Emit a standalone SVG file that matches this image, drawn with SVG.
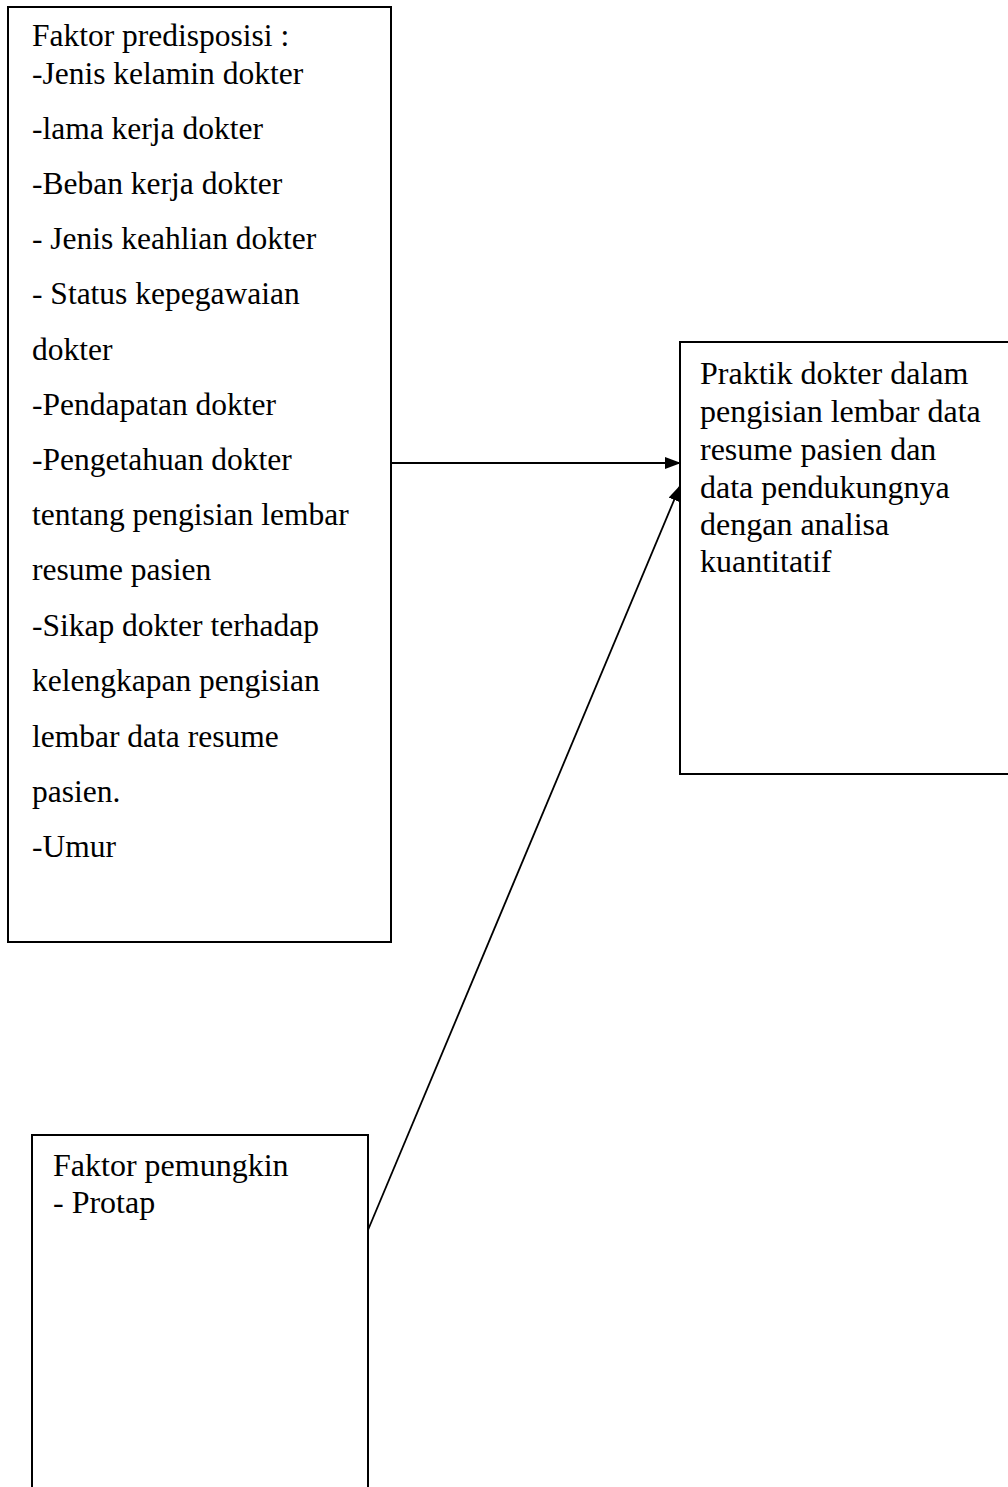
<svg xmlns="http://www.w3.org/2000/svg" width="1008" height="1487" viewBox="0 0 1008 1487">
<style>
.box{fill:#fff;stroke:#000;stroke-width:2}
.t{font-family:"Liberation Serif","Times New Roman",serif;font-size:31.5px;fill:#000}
.t2{font-family:"Liberation Serif","Times New Roman",serif;font-size:32px;fill:#000}
.c{stroke:#000;stroke-width:1.8;fill:none}
</style>
<defs>
<marker id="ah" markerWidth="16" markerHeight="12" refX="15" refY="6" orient="auto" markerUnits="userSpaceOnUse">
<path d="M0,0 L16,6 L0,12 Z" fill="#000"/>
</marker>
</defs>
<rect width="1008" height="1487" fill="#fff"/>
<g id="predisposisi">
<rect class="box" x="8" y="7" width="383" height="935"/>
<text class="t"><tspan x="32" y="46">Faktor predisposisi :</tspan><tspan x="32" y="84">-Jenis kelamin dokter</tspan><tspan x="32" y="139">-lama kerja dokter</tspan><tspan x="32" y="194">-Beban kerja dokter</tspan><tspan x="32" y="249">- Jenis keahlian dokter</tspan><tspan x="32" y="304">- Status kepegawaian</tspan><tspan x="32" y="360">dokter</tspan><tspan x="32" y="415">-Pendapatan dokter</tspan><tspan x="32" y="470">-Pengetahuan dokter</tspan><tspan x="32" y="525">tentang pengisian lembar</tspan><tspan x="32" y="580">resume pasien</tspan><tspan x="32" y="636">-Sikap dokter terhadap</tspan><tspan x="32" y="691">kelengkapan pengisian</tspan><tspan x="32" y="747">lembar data resume</tspan><tspan x="32" y="802">pasien.</tspan><tspan x="32" y="857">-Umur</tspan></text>
</g>
<g id="praktik">
<rect class="box" x="680" y="342" width="340" height="432"/>
<text class="t2"><tspan x="700" y="384">Praktik dokter dalam</tspan><tspan x="700" y="422">pengisian lembar data</tspan><tspan x="700" y="460">resume pasien dan</tspan><tspan x="700" y="498">data pendukungnya</tspan><tspan x="700" y="535">dengan analisa</tspan><tspan x="700" y="572">kuantitatif</tspan></text>
</g>
<g id="pemungkin">
<rect class="box" x="32" y="1135" width="336" height="380"/>
<text class="t2"><tspan x="53" y="1176">Faktor pemungkin</tspan><tspan x="53" y="1213">- Protap</tspan></text>
</g>
<g id="connectors">
<line class="c" x1="391" y1="463" x2="680" y2="463" marker-end="url(#ah)"/>
<line class="c" x1="368" y1="1230" x2="680" y2="486" marker-end="url(#ah)"/>
</g>
</svg>
